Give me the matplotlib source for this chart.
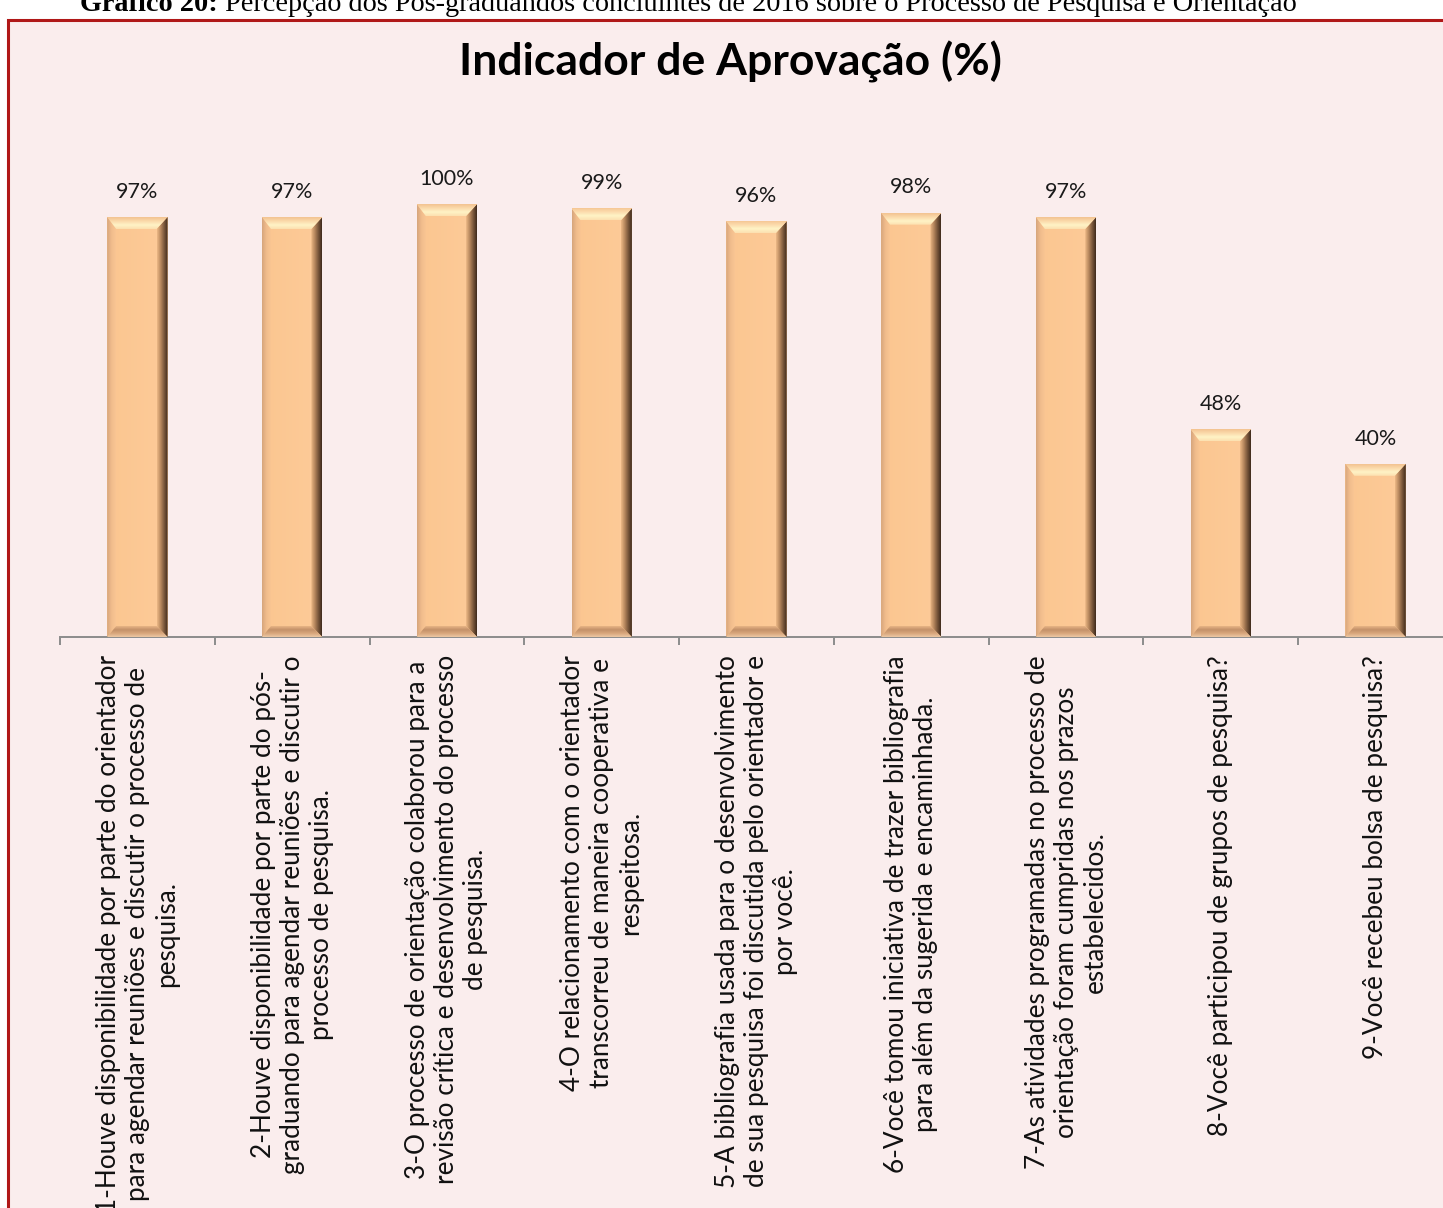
import numpy as np
import matplotlib
matplotlib.use("Agg")
import matplotlib.pyplot as plt
from matplotlib.patches import Rectangle, Polygon
from matplotlib.colors import to_rgb

# ---------------- data ----------------
categories = [
    "1-Houve disponibilidade por parte do orientador\npara agendar reuniões e discutir o processo de\npesquisa.",
    "2-Houve disponibilidade por parte do pós-\ngraduando para agendar reuniões e discutir o\nprocesso de pesquisa.",
    "3-O processo de orientação colaborou para a\nrevisão crítica e desenvolvimento do processo\nde pesquisa.",
    "4-O relacionamento com o orientador\ntranscorreu de maneira cooperativa e\nrespeitosa.",
    "5-A bibliografia usada para o desenvolvimento\nde sua pesquisa foi discutida pelo orientador e\npor você.",
    "6-Você tomou iniciativa de trazer bibliografia\npara além da sugerida e encaminhada.",
    "7-As atividades programadas no processo de\norientação foram cumpridas nos prazos\nestabelecidos.",
    "8-Você participou de grupos de pesquisa?",
    "9-Você recebeu bolsa de pesquisa?",
]
values = [97, 97, 100, 99, 96, 98, 97, 48, 40]
value_labels = ["97%", "97%", "100%", "99%", "96%", "98%", "97%", "48%", "40%"]
title = "Indicador de Aprovação (%)"
caption_bold = "Gráfico 20:"
caption_rest = " Percepção dos Pós-graduandos concluintes de 2016 sobre o Processo de Pesquisa e Orientação"

# ---------------- figure ----------------
W, H = 1443, 1208
fig = plt.figure(figsize=(W / 100, H / 100), dpi=100, facecolor="white")

def fx(px):
    return px / W

def fy(py):
    return 1 - py / H

# chart area background + border
bg = Rectangle((fx(8), fy(1250)), fx(1460), 1230 / H, transform=fig.transFigure,
               facecolor="#FAEDED", edgecolor="#B01818", linewidth=2.2, zorder=-10)
fig.patches.append(bg)

# clipped caption above the chart
cap = fig.text(fx(80), fy(11), caption_bold, fontfamily="Liberation Serif", fontweight="bold",
               fontsize=20.3, ha="left", va="baseline")
fig.canvas.draw()
r = fig.canvas.get_renderer()
bb = cap.get_window_extent(renderer=r)
fig.text(bb.x1 / W, fy(11), caption_rest, fontfamily="Liberation Serif",
         fontsize=20.3, ha="left", va="baseline")

fig.text(fx(730), fy(62), title, fontfamily="Lato", fontweight="bold", fontsize=32,
         ha="center", va="center")

# axes
ymax = 1.2
ax_h_px = ymax * 433
ax = fig.add_axes([fx(60), fy(637), fx(1393), ax_h_px / H])
ax.set_facecolor("none")

x = np.arange(len(values))
vals = np.array(values) / 100.0
bw = 0.39
face = "#FCC997"
bars = ax.bar(x, vals, width=bw, color=face, edgecolor="none", zorder=2)

def grad_poly(pts, stops, direction, zorder=3):
    """Fill polygon pts with a linear gradient through colour stops (direction 'x' or 'y')."""
    pts = np.asarray(pts)
    poly = Polygon(pts, closed=True, facecolor="none", edgecolor="none", transform=ax.transData)
    ax.add_patch(poly)
    n = 64
    t = np.linspace(0, 1, n)
    pos = np.linspace(0, 1, len(stops))
    rgb = np.array([to_rgb(c) for c in stops])
    cols = np.stack([np.interp(t, pos, rgb[:, k]) for k in range(3)], axis=1)
    arr = cols[None, :, :] if direction == "x" else cols[:, None, :]
    xa, xb = pts[:, 0].min(), pts[:, 0].max()
    ya, yb = pts[:, 1].min(), pts[:, 1].max()
    im = ax.imshow(arr, extent=[xa, xb, ya, yb], origin="lower", aspect="auto",
                   interpolation="bilinear", zorder=zorder)
    im.set_clip_path(poly)
    return im

px_per_unit_x = 1393 / 9.0
px_per_unit_y = 433.0
dxl = 9 / px_per_unit_x
dxr = 11 / px_per_unit_x
dyt = 12 / px_per_unit_y
dyb = 11 / px_per_unit_y

for b in bars:
    x0 = b.get_x()
    x1 = x0 + b.get_width()
    v = b.get_height()
    # face
    grad_poly([(x0, 0), (x1, 0), (x1, v), (x0, v)], ["#FBC690", "#FDCB99"], "x", zorder=2.5)
    # left bevel
    grad_poly([(x0, 0), (x0, v), (x0 + dxl, v - dyt), (x0 + dxl, dyb)],
              ["#D6A57C", "#F0BC8C", "#FAC693"], "x")
    # right bevel (dark)
    grad_poly([(x1 - dxr, dyb), (x1 - dxr, v - dyt), (x1, v), (x1, 0)],
              ["#EDB986", "#B8895F", "#7A573B", "#3E2A1C"], "x")
    # top bevel (light)
    grad_poly([(x0, v), (x1, v), (x1 - dxr, v - dyt), (x0 + dxl, v - dyt)],
              ["#FCE0B0", "#FFF3C6", "#FBD9AA", "#F3C391"], "y")
    # bottom bevel
    grad_poly([(x0, 0), (x1, 0), (x1 - dxr, dyb), (x0 + dxl, dyb)],
              ["#EDC8A4", "#D8A67C", "#C39169", "#E8B585"], "y")

for xi, v, lab in zip(x, vals, value_labels):
    ax.annotate(lab, (xi, v), xytext=(0, 11), textcoords="offset points",
                ha="center", va="bottom", fontfamily="Lato", fontsize=15.5, color="#1a1a1a")

ax.set_xlim(-0.5, len(values) - 0.5)
ax.set_ylim(0, ymax)

for s in ["top", "right", "left"]:
    ax.spines[s].set_visible(False)
ax.spines["bottom"].set_color("#8C8C8C")
ax.spines["bottom"].set_linewidth(1.4)
ax.set_yticks([])

ax.set_xticks(x)
ax.set_xticklabels(categories, rotation=90, ha="center", va="top", multialignment="center",
                   fontfamily="Lato", fontsize=18.8, color="#111111")
ax.tick_params(axis="x", which="major", length=0, pad=13)
ax.set_xticks(np.arange(-0.5, len(values) + 0.5, 1), minor=True)
ax.tick_params(axis="x", which="minor", length=6, width=1.4, color="#8C8C8C")

fig.savefig("out.png", dpi=100, facecolor="white")
